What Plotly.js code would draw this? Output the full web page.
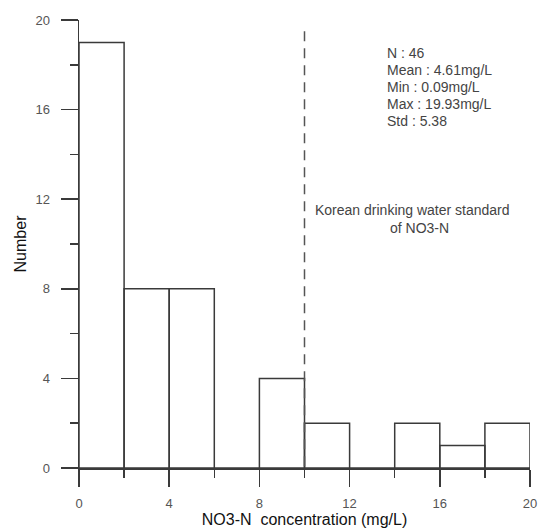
<!DOCTYPE html>
<html>
<head>
<meta charset="utf-8">
<script src="https://cdn.plot.ly/plotly-3.0.1.min.js"></script>
<style>
  html, body { margin: 0; padding: 0; background: #fff; }
  #chart { width: 542px; height: 532px; }
</style>
</head>
<body>
<div id="chart"></div>
<script>
// Histogram bins (mg/L), width 2
const binStarts = [0, 2, 4, 6, 8, 10, 12, 14, 16, 18];
const binWidth = 2;
const counts = [19, 8, 8, 0, 4, 2, 0, 2, 1, 2];

// Reference line (Korean drinking water standard)
const standardValue = 10;
const standardLineTop = 19.5;

// Summary statistics text
const statLines = ["N : 46", "Mean : 4.61mg/L", "Min : 0.09mg/L", "Max : 19.93mg/L", "Std : 5.38"];
const standardLabel = ["Korean drinking water standard", "of NO3-N"];

const xTicks = [0, 4, 8, 12, 16, 20];
const yTicks = [0, 4, 8, 12, 16, 20];

const lineColor = '#3a3a3a';
const font = 'Liberation Sans, Arial, sans-serif';

const trace = {
  type: 'bar',
  x: binStarts.map(b => b + binWidth / 2),
  y: counts,
  width: binStarts.map(() => binWidth),
  marker: { color: 'rgba(255,255,255,0)', line: { color: lineColor, width: 1.5 } },
  hoverinfo: 'x+y'
};

// annotation positions (data coords)
const statX = 13.57;
const statY = [18.54, 17.78, 17.02, 16.26, 15.50];
const annotations = statLines.map((t, i) => ({
  x: statX, y: statY[i], xref: 'x', yref: 'y',
  xanchor: 'left', yanchor: 'middle', showarrow: false, text: t,
  font: { family: font, size: 14, color: '#444' }
}));
annotations.push({
  x: 14.79, y: 11.52, xref: 'x', yref: 'y', xanchor: 'center', yanchor: 'middle',
  showarrow: false, text: standardLabel[0], font: { family: font, size: 14, color: '#444' }
});
annotations.push({
  x: 15.10, y: 10.70, xref: 'x', yref: 'y', xanchor: 'center', yanchor: 'middle',
  showarrow: false, text: standardLabel[1], font: { family: font, size: 14, color: '#444' }
});

const layout = {
  width: 542, height: 532,
  margin: { l: 79, r: 12, t: 20, b: 64 },
  paper_bgcolor: '#fff', plot_bgcolor: '#fff',
  showlegend: false,
  font: { family: font, color: '#444' },
  bargap: 0,
  xaxis: {
    range: [0, 20], tickvals: xTicks, ticktext: xTicks.map(String),
    ticks: 'outside', ticklen: 17, tickwidth: 1.5, tickcolor: lineColor,
    showline: true, linecolor: lineColor, linewidth: 1.5,
    showgrid: false, zeroline: false, ticklabelstandoff: 6,
    tickfont: { family: font, size: 13, color: '#555' },
    minor: { dtick: 2, tick0: 0, ticks: 'outside', ticklen: 8, tickwidth: 1.5, tickcolor: lineColor, showgrid: false },
    title: { text: 'NO3-N&nbsp;&nbsp;concentration (mg/L)', standoff: 2, font: { family: font, size: 16, color: '#111' } },
    fixedrange: true
  },
  yaxis: {
    range: [0, 20], tickvals: yTicks, ticktext: yTicks.map(String),
    ticks: 'outside', ticklen: 17, tickwidth: 1.5, tickcolor: lineColor,
    showline: true, linecolor: lineColor, linewidth: 1.5,
    showgrid: false, zeroline: false, ticklabelstandoff: 8,
    tickfont: { family: font, size: 13, color: '#555' },
    minor: { dtick: 2, tick0: 0, ticks: 'outside', ticklen: 8, tickwidth: 1.5, tickcolor: lineColor, showgrid: false },
    title: { text: 'Number', standoff: 5, font: { family: font, size: 16, color: '#111' } },
    fixedrange: true
  },
  shapes: [{
    type: 'line', xref: 'x', yref: 'y',
    x0: standardValue, x1: standardValue, y0: standardLineTop, y1: 0,
    line: { color: '#555', width: 1.5, dash: '10px,7px' }
  }],
  annotations: annotations
};

Plotly.newPlot('chart', [trace], layout, { staticPlot: true, displayModeBar: false });
</script>
</body>
</html>
